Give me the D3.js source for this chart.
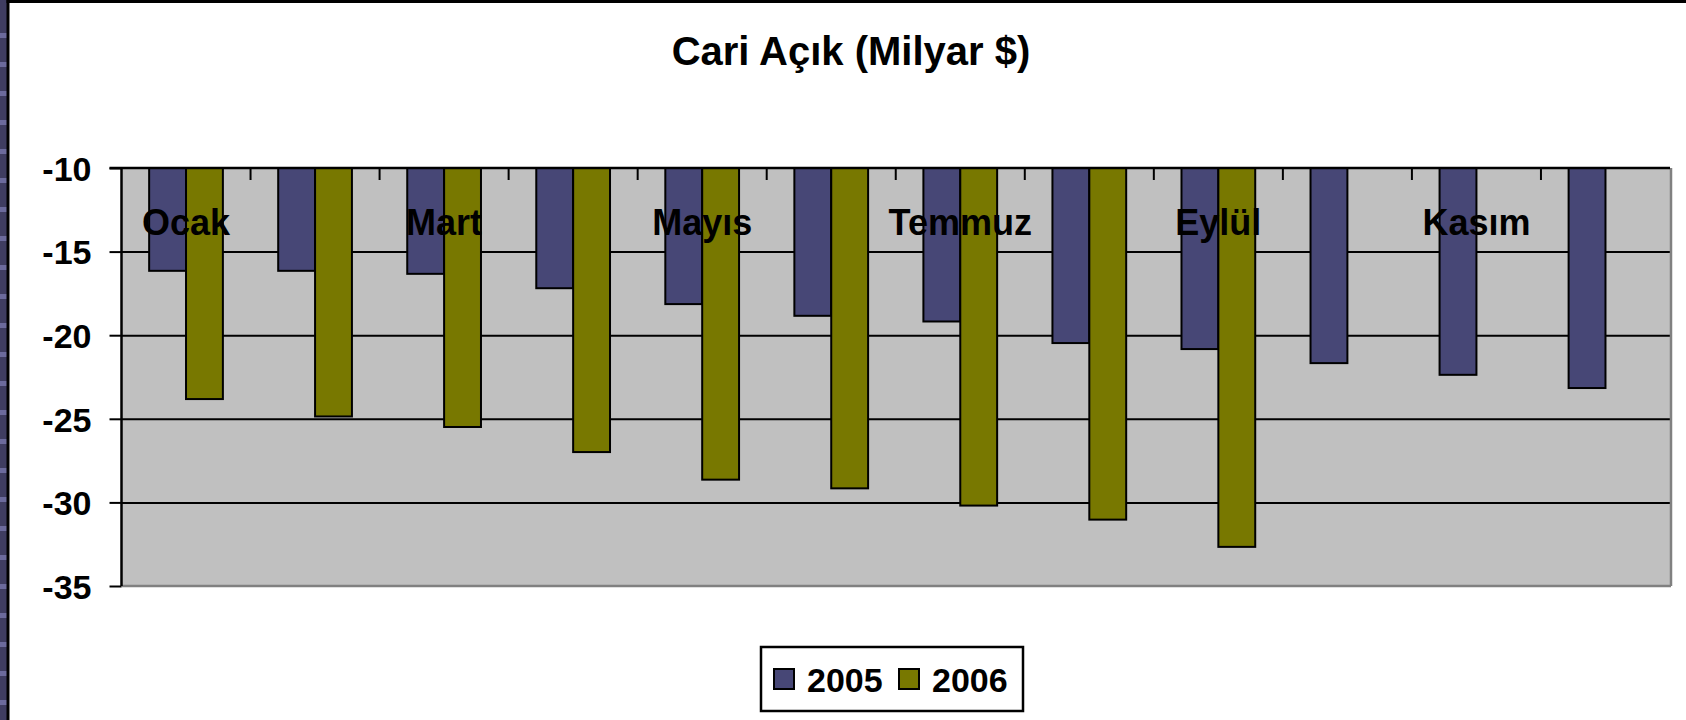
<!DOCTYPE html>
<html>
<head>
<meta charset="utf-8">
<script src="https://cdnjs.cloudflare.com/ajax/libs/d3/7.8.5/d3.min.js"></script>
<style>
  html, body { margin: 0; padding: 0; background: #fff; }
  svg { display: block; font-family: "Liberation Sans", Arial, sans-serif; font-weight: bold; }
</style>
</head>
<body>
<div id="chart"></div>
<script>
// --- DATA (Milyar $) ---
const months = ["Ocak","Şubat","Mart","Nisan","Mayıs","Haziran","Temmuz","Ağustos","Eylül","Ekim","Kasım","Aralık"];
const seriesNames = ["2005","2006"];
const values2005 = [-16.15,-16.15,-16.33,-17.19,-18.14,-18.84,-19.18,-20.47,-20.83,-21.67,-22.37,-23.16];
const values2006 = [-23.82,-24.86,-25.49,-26.99,-28.64,-29.16,-30.19,-31.03,-32.66];
const yTicks = [-10,-15,-20,-25,-30,-35];
const titleText = "Cari Açık (Milyar $)";

const colors = { "2005": "#474776", "2006": "#787800" };

const W = 1686, H = 720;
const plot = { left: 121.5, right: 1670, top: 168, bottom: 586 };

const svg = d3.select("#chart").append("svg")
  .attr("width", W)
  .attr("height", H);

// slide decoration on the left + frame lines
svg.append("rect").attr("x",0).attr("y",0).attr("width",7).attr("height",H).attr("fill","#3f3d61");
svg.selectAll("rect.deco")
  .data(d3.range(33, H, 29))
  .enter().append("rect")
  .attr("class","deco")
  .attr("x",0).attr("y", d => d).attr("width",7).attr("height",5)
  .attr("fill","#6c6b9d");
svg.append("rect").attr("x",6.5).attr("y",0).attr("width",3).attr("height",H).attr("fill","#000");
svg.append("rect").attr("x",6.5).attr("y",0).attr("width",W).attr("height",3).attr("fill","#000");

// title
svg.append("text")
  .attr("x", 851)
  .attr("y", 65)
  .attr("text-anchor","middle")
  .style("font-size","40px")
  .text(titleText);

// scales
const x = d3.scaleBand().domain(months).range([plot.left, plot.right]).padding(0);
const x1 = d3.scaleBand().domain(seriesNames).range([0, x.bandwidth()]).paddingInner(0).paddingOuter(0.75);
const y = d3.scaleLinear().domain([-10, -35]).range([plot.top, plot.bottom]);

// plot area
svg.append("rect")
  .attr("x", plot.left).attr("y", plot.top)
  .attr("width", plot.right - plot.left).attr("height", plot.bottom - plot.top)
  .attr("fill","#c0c0c0");

// gridlines
const grid = svg.append("g")
  .attr("transform", `translate(${plot.left},0)`)
  .call(d3.axisLeft(y).tickValues(yTicks.slice(1, -1)).tickSize(-(plot.right - plot.left)).tickFormat(""));
grid.select(".domain").remove();
grid.selectAll("line").attr("stroke","#000").attr("stroke-width",2);

// plot border right / bottom (gray)
svg.append("line")
  .attr("x1", plot.left).attr("x2", plot.right + 1)
  .attr("y1", y(-35)).attr("y2", y(-35))
  .attr("stroke","#808080").attr("stroke-width",2.5);
svg.append("line")
  .attr("x1", plot.right + 1).attr("x2", plot.right + 1)
  .attr("y1", plot.top).attr("y2", plot.bottom)
  .attr("stroke","#808080").attr("stroke-width",2.5);

// category ticks (down from the top axis line)
svg.append("g").selectAll("line")
  .data(d3.range(1, months.length))
  .enter().append("line")
  .attr("x1", i => plot.left + i * x.step())
  .attr("x2", i => plot.left + i * x.step())
  .attr("y1", y(-10)).attr("y2", y(-10) + 12)
  .attr("stroke","#000").attr("stroke-width",2);

// bars
const rows = months.map((m, i) => ({
  month: m,
  vals: [
    { key: "2005", v: values2005[i] },
    { key: "2006", v: values2006[i] }
  ].filter(d => d.v !== undefined)
}));

const groups = svg.append("g").selectAll("g")
  .data(rows)
  .enter().append("g")
  .attr("transform", d => `translate(${x(d.month)},0)`);

groups.selectAll("rect")
  .data(d => d.vals)
  .enter().append("rect")
  .attr("x", d => x1(d.key))
  .attr("y", y(-10))
  .attr("width", x1.bandwidth())
  .attr("height", d => y(d.v) - y(-10))
  .attr("fill", d => colors[d.key])
  .attr("stroke","#000")
  .attr("stroke-width",2);

// value axis
const yAxis = svg.append("g")
  .attr("transform", `translate(${plot.left},0)`)
  .call(d3.axisLeft(y).tickValues(yTicks).tickSize(12).tickPadding(18).tickFormat(d => String(d)));
yAxis.select(".domain").attr("stroke","#000").attr("stroke-width",2.5).attr("d", `M0,${plot.top}V${plot.bottom}`);
yAxis.selectAll(".tick line").attr("stroke","#000").attr("stroke-width",2);
yAxis.selectAll(".tick text")
  .style("font-size","34px")
  .style("font-family",'"Liberation Sans", Arial, sans-serif')
  .style("font-weight","bold")
  .attr("fill","#000")
  .attr("dy","0.36em");

// top category axis line
svg.append("line")
  .attr("x1", plot.left - 12).attr("x2", plot.right)
  .attr("y1", y(-10)).attr("y2", y(-10))
  .attr("stroke","#000").attr("stroke-width",2.5);

// category labels (every other month, drawn over the bars)
const xAxis = svg.append("g")
  .attr("transform", `translate(0,${y(-10)})`)
  .call(d3.axisBottom(x).tickSize(0).tickFormat((d, i) => i % 2 === 0 ? d : ""));
xAxis.select(".domain").remove();
xAxis.selectAll(".tick text")
  .attr("y", 67)
  .attr("dy", 0)
  .attr("fill","#000")
  .style("font-size","36px")
  .style("font-family",'"Liberation Sans", Arial, sans-serif')
  .style("font-weight","bold");

// legend
const legend = svg.append("g");
legend.append("rect")
  .attr("x", 761).attr("y", 647).attr("width", 262).attr("height", 64)
  .attr("fill","#fff").attr("stroke","#000").attr("stroke-width",2.5);
const legendX = d3.scalePoint().domain(seriesNames).range([774, 899]);
const li = legend.selectAll("g.item")
  .data(seriesNames)
  .enter().append("g")
  .attr("class","item")
  .attr("transform", d => `translate(${legendX(d)},669)`);
li.append("rect")
  .attr("width",20).attr("height",20)
  .attr("fill", d => colors[d])
  .attr("stroke","#000").attr("stroke-width",2);
li.append("text")
  .attr("x", 33).attr("y", 23)
  .style("font-size","34px")
  .text(d => d);
</script>
</body>
</html>
